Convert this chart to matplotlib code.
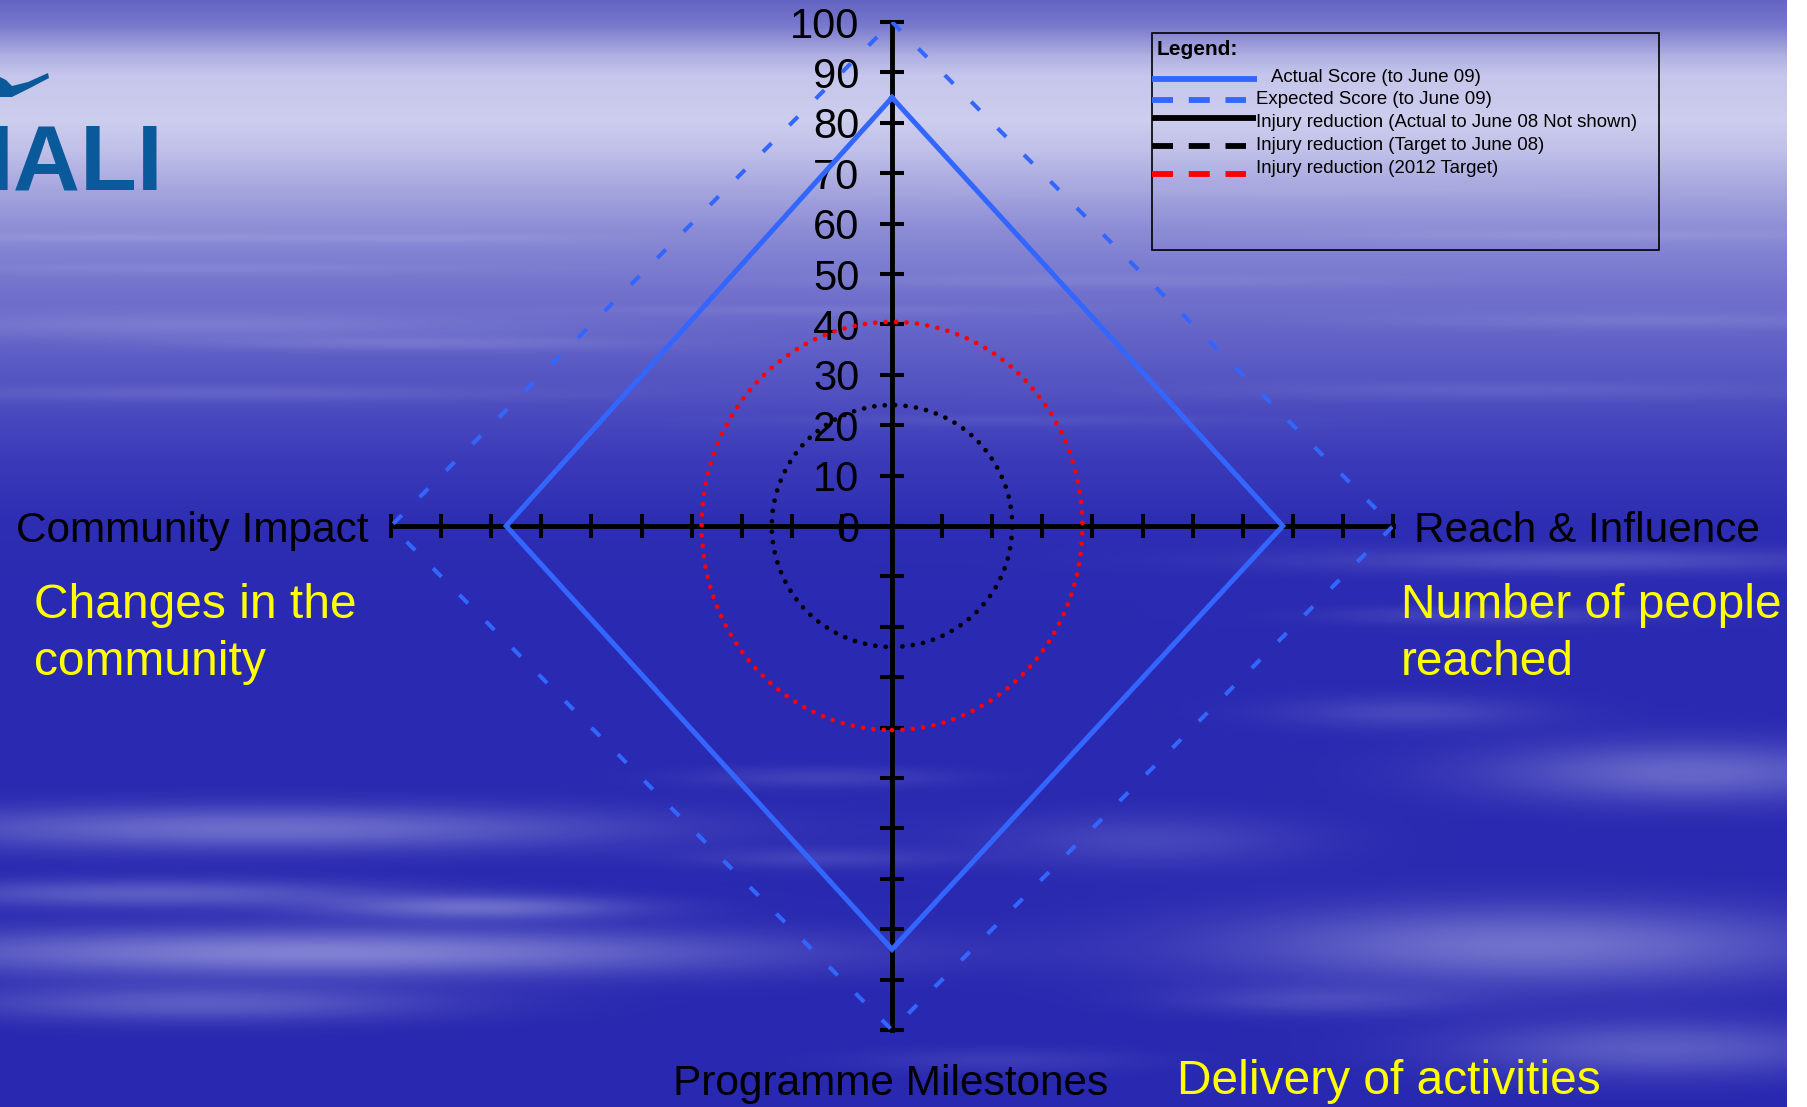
import matplotlib
matplotlib.use("Agg")
import matplotlib.pyplot as plt
import numpy as np
from matplotlib.patches import Ellipse, Rectangle, Polygon
from matplotlib.ticker import FuncFormatter

plt.rcParams['font.family'] = ['Liberation Sans', 'DejaVu Sans']

# --- Scores per axis, clockwise from the top ---
axis_names = ["", "Reach & Influence", "Programme Milestones", "Community Impact"]
axis_dirs = [(0, 1), (1, 0), (0, -1), (-1, 0)]
actual_score = [85, 78, 84, 77]        # Actual Score (to June 09)
expected_score = [100, 100, 100, 100]  # Expected Score (to June 09)

# injury reduction rings, (horizontal, vertical) radius
target_june08 = (24, 24)
target_2012 = (38, 40.5)

value_ticks = list(range(-100, 101, 10))

legend_labels = [
    "Actual Score (to June 09)",
    "Expected Score (to June 09)",
    "Injury reduction (Actual to June 08 Not shown)",
    "Injury reduction (Target to June 08)",
    "Injury reduction (2012 Target)",
]

side_notes = {
    "left": ["Changes in the", "community"],
    "right": ["Number of people", "reached"],
    "bottom": "Delivery of activities",
}

BLUE = "#3366FF"
YELLOW = "#FFFF00"
W_PX, H_PX = 1807, 1107


def sky_background(w, h):
    """Blue sky gradient with horizontal cloud streaks."""
    ys = np.arange(h)
    stops = [0, 25, 55, 75, 120, 150, 190, 230, 280, 340, 400, 460, 520, 600, h]
    red = [100, 120, 175, 198, 205, 192, 165, 140, 118, 98, 78, 58, 46, 42, 40]
    blue = [195, 205, 226, 236, 238, 233, 222, 213, 206, 199, 192, 185, 180, 178, 176]
    rr = np.interp(ys, stops, red)
    bb = np.interp(ys, stops, blue)
    base = np.zeros((h, w, 3))
    base[:, :, 0] = rr[:, None]
    base[:, :, 1] = rr[:, None]
    base[:, :, 2] = bb[:, None]

    # (cx, cy, half length, half height, strength)
    streaks = [
        (110, 237, 200, 5, 0.18), (440, 238, 160, 5, 0.15), (1300, 190, 350, 6, 0.12),
        (1600, 235, 250, 6, 0.15), (200, 268, 260, 5, 0.12), (1100, 280, 300, 6, 0.12),
        (200, 325, 320, 14, 0.2), (420, 343, 220, 7, 0.18), (1650, 320, 250, 8, 0.15),
        (800, 310, 250, 5, 0.1), (220, 393, 320, 8, 0.15), (1500, 390, 300, 9, 0.12),
        (1000, 420, 250, 6, 0.08), (1580, 560, 280, 12, 0.22), (1490, 615, 150, 9, 0.18),
        (1410, 712, 130, 16, 0.18), (1690, 772, 200, 30, 0.38), (1150, 840, 160, 26, 0.18),
        (260, 828, 360, 22, 0.42), (820, 777, 130, 10, 0.15), (820, 858, 130, 10, 0.15),
        (150, 893, 240, 14, 0.32), (480, 907, 150, 12, 0.4), (320, 952, 430, 24, 0.55),
        (200, 1003, 240, 18, 0.32), (1530, 945, 300, 40, 0.45), (1660, 1048, 200, 28, 0.32),
        (1320, 1000, 140, 14, 0.18), (1000, 1060, 140, 12, 0.12),
    ]
    xx = np.arange(w)[None, :]
    yy = ys[:, None]
    alpha = np.zeros((h, w))
    for cx, cy, sx, sy, a in streaks:
        alpha += a * np.exp(-((xx - cx) / sx) ** 2 - ((yy - cy) / sy) ** 2)
    alpha = np.clip(alpha, 0, 0.85)[:, :, None]
    light = np.array([200, 200, 240])
    img = base * (1 - alpha) + light * alpha
    return np.clip(img / 255.0, 0, 1)


fig = plt.figure(figsize=(W_PX / 100, H_PX / 100), dpi=100, facecolor="white")

# background picture (white strip on the far right)
bg = fig.add_axes([0, 0, 1787 / W_PX, 1], zorder=0)
bg.imshow(sky_background(1787, H_PX), aspect="auto", interpolation="bilinear")
bg.axis("off")

# pixel overlay for text, logo and legend box
ov = fig.add_axes([0, 0, 1, 1], zorder=1)
ov.set_xlim(0, W_PX)
ov.set_ylim(H_PX, 0)
ov.axis("off")

# logo fragment
ov.text(-12, 190, "IALI", color="#0A5A9B", fontsize=67, fontweight="bold",
        ha="left", va="baseline")
ov.add_patch(Polygon([(0, 77), (6, 80), (12, 86), (28, 82), (48, 73), (49, 78),
                      (30, 88), (12, 97), (0, 97)], closed=True, color="#0A5A9B", lw=0))

# axis names
ov.text(369, 542, axis_names[3], ha="right", va="baseline", fontsize=30.5, color="black")
ov.text(1414, 542, axis_names[1], ha="left", va="baseline", fontsize=30.5, color="black")
ov.text(891, 1095, axis_names[2], ha="center", va="baseline", fontsize=30.5, color="black")

# yellow notes
ov.text(34, 618, side_notes["left"][0], ha="left", va="baseline", fontsize=34.5, color=YELLOW)
ov.text(34, 675, side_notes["left"][1], ha="left", va="baseline", fontsize=34.5, color=YELLOW)
ov.text(1401, 618, side_notes["right"][0], ha="left", va="baseline", fontsize=34.5, color=YELLOW)
ov.text(1401, 675, side_notes["right"][1], ha="left", va="baseline", fontsize=34.5, color=YELLOW)
ov.text(1177, 1094, side_notes["bottom"], ha="left", va="baseline", fontsize=34.5, color=YELLOW)

# legend box
ov.add_patch(Rectangle((1152, 33), 507, 217, fill=False, ec="black", lw=1.2))
ov.text(1157, 55, "Legend:", fontweight="bold", fontsize=15, ha="left", va="baseline")
key_styles = [
    dict(color=BLUE, ls="-", x1=1257),
    dict(color=BLUE, ls="--", x1=1246),
    dict(color="black", ls="-", x1=1256),
    dict(color="black", ls="--", x1=1246),
    dict(color="red", ls="--", x1=1246),
]
key_y = [79, 100, 118, 146, 174]
text_y = [82, 104, 127, 150, 173]
text_x = [1271, 1256, 1256, 1256, 1256]
for label, st, ky, ty, tx in zip(legend_labels, key_styles, key_y, text_y, text_x):
    ln, = ov.plot([1152, st["x1"]], [ky, ky], color=st["color"], lw=4.2,
                  solid_capstyle="butt", dash_capstyle="butt")
    if st["ls"] == "--":
        ln.set_dashes((3.6, 2.7))
    ov.text(tx, ty, label, fontsize=13.4, ha="left", va="baseline", color="black")

# --- main chart, axes crossing at the origin ---
ax = fig.add_axes([391 / W_PX, 77 / H_PX, 1002 / W_PX, 1008 / H_PX], zorder=2)
ax.patch.set_visible(False)
ax.set_xlim(-100, 100)
ax.set_ylim(-100, 100)
for side in ("top", "right"):
    ax.spines[side].set_visible(False)
for side in ("left", "bottom"):
    ax.spines[side].set_position(("data", 0))
    ax.spines[side].set_linewidth(3.5)
    ax.spines[side].set_zorder(2.5)
ax.set_xticks(value_ticks)
ax.set_yticks(value_ticks)
ax.xaxis.set_major_formatter(FuncFormatter(lambda v, _: ""))
ax.yaxis.set_major_formatter(FuncFormatter(lambda v, _: f"{abs(v):.0f}" if v >= 0 else ""))
ax.tick_params(axis="both", direction="inout", length=17, width=2.9, color="black")
ax.tick_params(axis="y", labelsize=30, pad=15)


def polygon_xy(scores):
    xs = [d[0] * s for d, s in zip(axis_dirs, scores)]
    ys = [d[1] * s for d, s in zip(axis_dirs, scores)]
    return xs + xs[:1], ys + ys[:1]


ex, ey = polygon_xy(expected_score)
exp_line, = ax.plot(ex, ey, color=BLUE, lw=2.9, zorder=3)
exp_line.set_dashes((3.0, 6.3))

axx, axy = polygon_xy(actual_score)
ax.plot(axx, axy, color=BLUE, lw=3.6, solid_joinstyle="miter", zorder=3)

for radii, col in ((target_june08, "black"), (target_2012, "red")):
    ring = Ellipse((0, 0), 2 * radii[0], 2 * radii[1], fill=False, ec=col,
                   lw=3.4, ls=(0, (0.01, 2.2)), capstyle="round", zorder=3)
    ax.add_patch(ring)

fig.savefig("out.png", dpi=100, facecolor="white")
